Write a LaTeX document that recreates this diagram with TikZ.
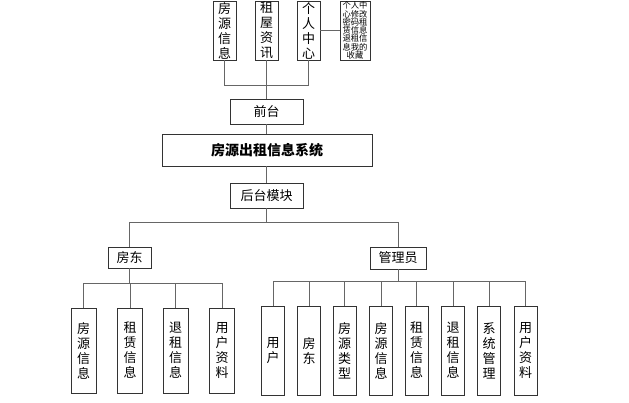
\documentclass[tikz,border=0pt]{standalone}
\usepackage{fontspec}
\setmainfont{Noto Sans CJK SC}
\begin{document}
\begin{tikzpicture}[x=1pt,y=-1pt,
  bx/.style={draw=black!80,line width=0.8pt,inner sep=0pt,align=center,font=\fontsize{13}{15}\selectfont},
  vtop/.style={bx,minimum width=23pt,minimum height=59pt},
  vleft/.style={bx,minimum width=25pt,minimum height=85pt},
  vadm/.style={bx,minimum width=23pt,minimum height=89pt},
  hbox/.style={bx,minimum width=73pt,minimum height=25pt},
  conn/.style={draw=black!60,line width=0.8pt}]
\useasboundingbox (0,0) rectangle (629,402);
% top row
\node[vtop] (t1) at (224.5,30.5) {房\\源\\信\\息};
\node[vtop] (t2) at (266.5,30.5) {租\\屋\\资\\讯};
\node[vtop] (t3) at (308.5,30.5) {个\\人\\中\\心};
\node[bx,minimum width=30pt,minimum height=59pt,font=\fontsize{8.3}{8.3}\selectfont] (t4) at (355,30.5) {个人中\\心修改\\密码租\\赁信息\\退租信\\息我的\\收藏};
% middle
\node[hbox] (qt) at (266.5,111.5) {前台};
\node[bx,minimum width=210pt,minimum height=32pt,font=\fontsize{14}{16}\selectfont\bfseries] (sys) at (267,150) {房源出租信息系统};
\node[hbox] (ht) at (266.5,195.5) {后台模块};
% second level
\node[bx,minimum width=43pt,minimum height=21pt] (fd) at (129.5,257.5) {房东};
\node[bx,minimum width=56pt,minimum height=22pt] (gl) at (398,258) {管理员};
% landlord leaves
\node[vleft] (l1) at (83.5,350.5) {房\\源\\信\\息};
\node[vleft] (l2) at (130,350.5) {租\\赁\\信\\息};
\node[vleft] (l3) at (175.5,350.5) {退\\租\\信\\息};
\node[vleft] (l4) at (222,350.5) {用\\户\\资\\料};
% admin leaves
\node[vadm] (a1) at (273,350.5) {用\\户};
\node[vadm] (a2) at (309,350.5) {房\\东};
\node[vadm] (a3) at (344.5,350.5) {房\\源\\类\\型};
\node[vadm] (a4) at (381,350.5) {房\\源\\信\\息};
\node[vadm] (a5) at (416.5,350.5) {租\\赁\\信\\息};
\node[vadm] (a6) at (453,350.5) {退\\租\\信\\息};
\node[vadm] (a7) at (489,350.5) {系\\统\\管\\理};
\node[vadm] (a8) at (525.5,350.5) {用\\户\\资\\料};
% connectors top
\draw[conn] (t1.south) |- (t3.south |- 0,85) -- (t3.south);
\draw[conn] (t2.south) -- (qt.north);
\draw[conn] (t3.east) -- (t4.west);
\draw[conn] (qt.south) -- (sys.north -| qt.south);
\draw[conn] (sys.south -| ht.north) -- (ht.north);
% back-end split
\coordinate (hb) at (266.5,222);
\draw[conn] (ht.south) -- (hb);
\draw[conn] (fd.north) |- (gl.north |- hb) -- (gl.north);
% landlord bus
\coordinate (fb) at (129.5,283);
\draw[conn] (fd.south) -- (fb);
\draw[conn] (l1.north) |- (l4.north |- fb) -- (l4.north);
\draw[conn] (l2.north) -- (l2.north |- fb);
\draw[conn] (l3.north) -- (l3.north |- fb);
% admin bus
\coordinate (gb) at (398,281);
\draw[conn] (gl.south) -- (gb);
\draw[conn] (a1.north) |- (a8.north |- gb) -- (a8.north);
\foreach \n in {a2,a3,a4,a5,a6,a7} \draw[conn] (\n.north) -- (\n.north |- gb);
\end{tikzpicture}
\end{document}
